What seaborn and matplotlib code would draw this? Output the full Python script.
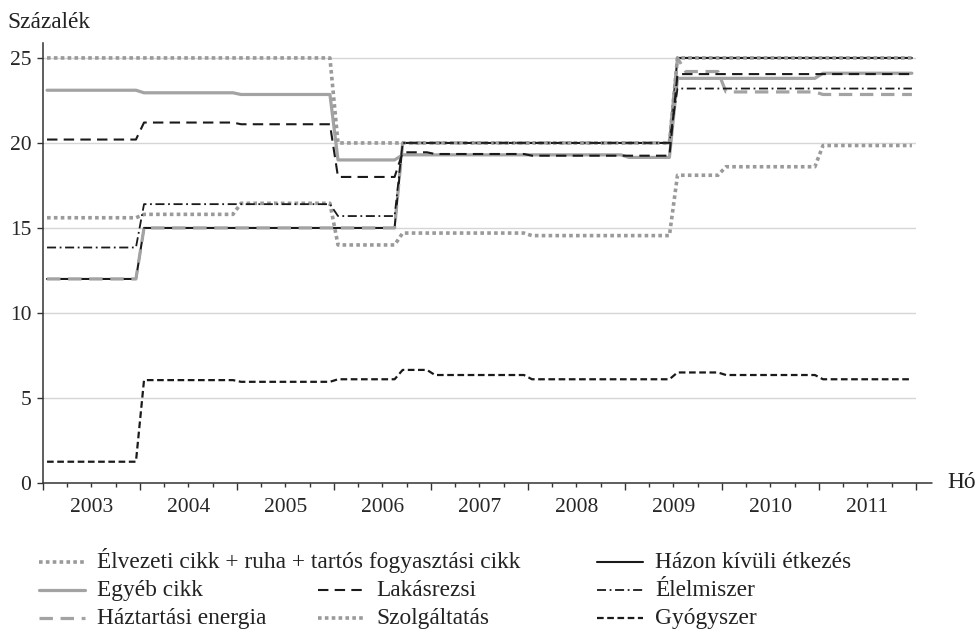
import numpy as np
import pandas as pd
import matplotlib
matplotlib.use("Agg")
import matplotlib.pyplot as plt
from matplotlib.lines import Line2D
from matplotlib.ticker import FixedLocator, FixedFormatter, NullFormatter
import seaborn as sns

# monthly data, Jan 2003 - Dec 2011, stored as (level, number of months) runs
years = [str(y) for y in range(2003, 2012)]
n_months = 108

elvezeti_vals = [25, 20, 25]
elvezeti_runs = [36, 42, 30]

egyeb_vals = [23.1, 22.95, 22.85, 19.0, 19.3, 19.15, 23.8, 24.1]
egyeb_runs = [12, 12, 12, 8, 28, 6, 18, 12]

haztartasi_vals = [12, 15, 20, 25, 24.2, 23.0, 22.85]
haztartasi_runs = [12, 32, 34, 1, 5, 12, 12]

lakasrezsi_vals = [20.2, 21.2, 21.1, 18.0, 19.45, 19.35, 19.25, 24.05]
lakasrezsi_runs = [12, 12, 12, 8, 4, 12, 18, 30]

szolgaltatas_vals = [15.6, 15.8, 16.45, 14.0, 14.7, 14.55, 18.1, 18.6, 19.85]
szolgaltatas_runs = [12, 12, 12, 8, 16, 18, 6, 12, 12]

hazon_kivul_vals = [12, 15, 20, 25]
hazon_kivul_runs = [12, 32, 34, 30]

elelmiszer_vals = [13.85, 16.4, 15.7, 20.0, 23.2]
elelmiszer_runs = [12, 24, 8, 34, 30]

gyogyszer_vals = [1.25, 6.05, 5.95, 6.1, 6.65, 6.35, 6.1, 6.5, 6.35, 6.1]
gyogyszer_runs = [12, 12, 12, 8, 4, 12, 18, 6, 12, 12]

labels = {
    "elvezeti": "Élvezeti cikk + ruha + tartós fogyasztási cikk",
    "egyeb": "Egyéb cikk",
    "haztartasi": "Háztartási energia",
    "lakasrezsi": "Lakásrezsi",
    "szolgaltatas": "Szolgáltatás",
    "hazon_kivul": "Házon kívüli étkezés",
    "elelmiszer": "Élelmiszer",
    "gyogyszer": "Gyógyszer",
}

series = {
    "elvezeti": (elvezeti_vals, elvezeti_runs),
    "egyeb": (egyeb_vals, egyeb_runs),
    "haztartasi": (haztartasi_vals, haztartasi_runs),
    "lakasrezsi": (lakasrezsi_vals, lakasrezsi_runs),
    "szolgaltatas": (szolgaltatas_vals, szolgaltatas_runs),
    "hazon_kivul": (hazon_kivul_vals, hazon_kivul_runs),
    "elelmiszer": (elelmiszer_vals, elelmiszer_runs),
    "gyogyszer": (gyogyszer_vals, gyogyszer_runs),
}

months = np.arange(n_months) + 0.5
rows = []
for key, (vals, runs) in series.items():
    for m, v in zip(months, np.repeat(vals, runs)):
        rows.append({"series": key, "month": m, "value": v})
df = pd.DataFrame(rows)

gray = "#a3a3a3"
dotgray = "#9a9a9a"
black = "#1a1a1a"
styles = {
    "hazon_kivul": dict(color=black, lw=1.5, ls="-"),
    "haztartasi": dict(color=gray, lw=2.3, ls=(0, (4.2, 2.4))),
    "egyeb": dict(color=gray, lw=2.3, ls="-"),
    "elvezeti": dict(color=dotgray, lw=2.6, ls=(0, (1, 0.9))),
    "szolgaltatas": dict(color=dotgray, lw=2.6, ls=(0, (1, 0.9))),
    "lakasrezsi": dict(color=black, lw=1.5, ls=(0, (5, 3))),
    "elelmiszer": dict(color=black, lw=1.3, ls=(0, (5, 2, 1, 2))),
    "gyogyszer": dict(color=black, lw=1.6, ls=(0, (3, 1.6))),
}
draw_order = ["hazon_kivul", "haztartasi", "egyeb", "elvezeti", "szolgaltatas",
              "lakasrezsi", "elelmiszer", "gyogyszer"]

sns.set_theme(style="white")
plt.rcParams["font.family"] = ["Liberation Serif", "DejaVu Serif"]
fs = 16.8
tfs = 15.5

W, H = 977, 632
fig = plt.figure(figsize=(W / 100, H / 100), dpi=100)
ax = fig.add_axes([0.044, 0.2358, 0.8935, 0.6962])

for key in draw_order:
    st = styles[key]
    sns.lineplot(data=df[df["series"] == key], x="month", y="value", ax=ax,
                 color=st["color"], linewidth=st["lw"], linestyle=st["ls"],
                 legend=False)

ax.set_xlim(0, n_months)
ax.set_ylim(0, 25.88)
ax.set_yticks([0, 5, 10, 15, 20, 25])
ax.grid(False)
for yv in [5, 10, 15, 20, 25]:
    ax.axhline(yv, color="#d6d6d6", lw=1, zorder=0)

for s in ["top", "right", "bottom"]:
    ax.spines[s].set_visible(False)
ax.spines["left"].set_color("#333333")
ax.spines["left"].set_linewidth(1.1)
ax.axhline(0, xmin=0, xmax=110 / n_months, color="#333333", lw=1.1, clip_on=False)

ax.xaxis.set_major_locator(FixedLocator(list(range(0, n_months + 1, 12))))
ax.xaxis.set_major_formatter(NullFormatter())
minor = [m for m in range(3, n_months, 3) if m % 12]
ax.xaxis.set_minor_locator(FixedLocator(minor))
ax.xaxis.set_minor_formatter(FixedFormatter([years[m // 12] if m % 12 == 6 else "" for m in minor]))
ax.tick_params(axis="x", which="major", bottom=True, length=5, width=1, color="#333333", direction="out")
ax.tick_params(axis="x", which="minor", bottom=True, length=3, width=1, color="#333333",
               direction="out", pad=8, labelsize=tfs)
ax.tick_params(axis="y", left=True, length=4.5, width=1, color="#333333", direction="out",
               pad=4, labelsize=tfs)
ax.set_xlabel("")
ax.set_ylabel("")

fig.text(7 / W, 1 - 28 / H, "Százalék", fontsize=fs, ha="left", va="baseline", color="#222222")
fig.text(947 / W, 1 - 483 / H, "Hó", fontsize=fs, ha="left", va="center", color="#222222")

# legend laid out by hand: 3 columns x 3 rows, first label spans two columns
legend_cols = [39, 318, 597]
legend_rows = [568, 596, 624]
legend_layout = [
    ("elvezeti", 0, 0), ("hazon_kivul", 2, 0),
    ("egyeb", 0, 1), ("lakasrezsi", 1, 1), ("elelmiszer", 2, 1),
    ("haztartasi", 0, 2), ("szolgaltatas", 1, 2), ("gyogyszer", 2, 2),
]
for key, c, r in legend_layout:
    st = styles[key]
    x0 = legend_cols[c]
    yb = legend_rows[r]
    fig.add_artist(Line2D([x0 / W, (x0 + 46) / W], [1 - (yb - 6) / H] * 2,
                          transform=fig.transFigure, color=st["color"], lw=st["lw"], ls=st["ls"]))
    fig.text((x0 + 58) / W, 1 - yb / H, labels[key], fontsize=fs, ha="left",
             va="baseline", color="#222222")

fig.savefig("out.png", dpi=100)
